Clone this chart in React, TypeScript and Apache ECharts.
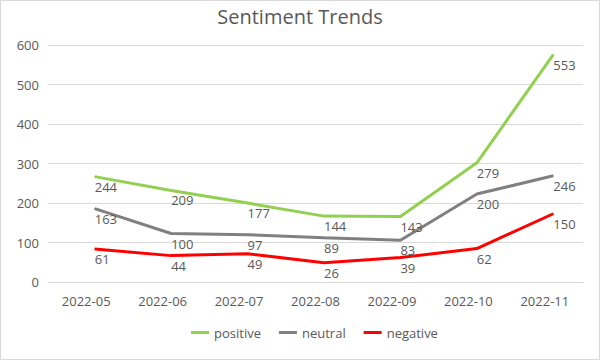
import React, { useEffect, useRef } from "react";
import * as echarts from "echarts";

const categories = ["2022-05", "2022-06", "2022-07", "2022-08", "2022-09", "2022-10", "2022-11"];
const positive = [244, 209, 177, 144, 143, 279, 553];
const neutral = [163, 100, 97, 89, 83, 200, 246];
const negative = [61, 44, 49, 26, 39, 62, 150];
const yTicks = [0, 100, 200, 300, 400, 500, 600];

const FONT = "'Open Sans', 'Noto Sans', sans-serif";
const TEXT = "#595959";

export default function App() {
  const ref = useRef<HTMLDivElement>(null);
  useEffect(() => {
    if (!ref.current) return;
    const chart = echarts.init(ref.current, undefined, { renderer: "svg" });
    const mk = (name: string, data: number[], color: string) => ({
      name,
      type: "line",
      xAxisIndex: 1,
      yAxisIndex: 1,
      data,
      color,
      lineStyle: { color, width: 3 },
      itemStyle: { color },
      symbol: "circle",
      symbolSize: 1,
      showSymbol: true,
      label: {
        show: true,
        position: "bottom",
        distance: 3,
        align: "left",
        color: TEXT,
        fontSize: 13,
        fontFamily: FONT,
      },
    });
    chart.setOption({
      animation: false,
      backgroundColor: "#fff",
      title: {
        text: "Sentiment Trends",
        left: "center",
        top: 1,
        textStyle: { color: TEXT, fontSize: 20, fontWeight: "normal", fontFamily: FONT },
      },
      legend: {
        bottom: 16,
        left: 186,
        itemWidth: 18,
        itemHeight: 3,
        itemGap: 18,
        icon: "rect",
        textStyle: { color: TEXT, fontSize: 13, fontFamily: FONT },
        data: ["positive", "neutral", "negative"],
      },
      grid: [
        { left: 48, right: 17, top: 45, bottom: 78 },
        { left: 56.5, right: 8.5, top: 36, bottom: 87 },
      ],
      xAxis: [
        {
          type: "category",
          gridIndex: 0,
          data: categories,
          boundaryGap: true,
          axisLine: { show: true, lineStyle: { color: "#d9d9d9" } },
          axisTick: { show: false },
          axisLabel: { color: TEXT, fontSize: 13, fontFamily: FONT, margin: 12 },
        },
        {
          type: "category",
          gridIndex: 1,
          data: categories,
          boundaryGap: true,
          show: false,
        },
      ],
      yAxis: [
        {
          type: "value",
          gridIndex: 0,
          min: yTicks[0],
          max: yTicks[yTicks.length - 1],
          interval: 100,
          axisLine: { show: false },
          axisTick: { show: false },
          splitLine: { lineStyle: { color: "#d9d9d9", width: 1 } },
          axisLabel: { color: TEXT, fontSize: 13, fontFamily: FONT, margin: 9 },
        },
        {
          type: "value",
          gridIndex: 1,
          min: yTicks[0],
          max: yTicks[yTicks.length - 1],
          interval: 100,
          show: false,
          splitLine: { show: false },
        },
      ],
      graphic: [
        {
          type: "rect",
          shape: { x: 0.5, y: 0.5, width: 599, height: 359 },
          style: { fill: "none", stroke: "#d9d9d9", lineWidth: 1 },
          silent: true,
        },
      ],
      series: [
        mk("positive", positive, "#92d050"),
        mk("neutral", neutral, "#808080"),
        mk("negative", negative, "#ff0000"),
      ],
    });
    return () => chart.dispose();
  }, []);
  return (
    <div
      ref={ref}
      style={{ position: "fixed", left: 0, top: 0, width: 600, height: 360 }}
    />
  );
}
